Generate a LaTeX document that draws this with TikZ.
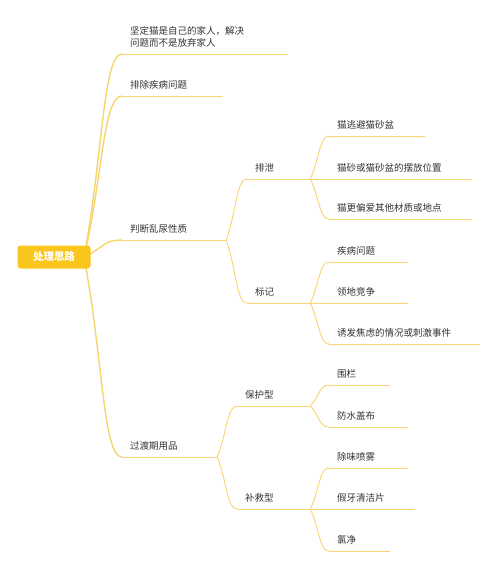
\documentclass[tikz,border=0pt]{standalone}
\usepackage{fontspec}
\setmainfont{Noto Sans CJK SC}
\usepackage{tikz}
\usetikzlibrary{calc}
\usetikzlibrary{backgrounds}
\definecolor{branchyellow}{HTML}{F6D46E}
\definecolor{rootyellow}{HTML}{FAC51C}
\definecolor{inkgray}{HTML}{333333}

\begin{document}
\begin{tikzpicture}
	[
	x=1pt, y=-1pt,
	every node/.style={font=\fontsize{9.5}{12}\selectfont, text=inkgray},
	root/.style = {fill=rootyellow, rounded corners=3pt, minimum width=73pt, minimum height=23pt, text=white, font=\fontsize{10.5}{12}\selectfont\bfseries},
	twig/.style = {draw=branchyellow, line width=0.9pt},
	limb/.style = {draw=branchyellow, line width=1.4pt},
	topic/.style = {anchor=south west, inner xsep=8pt, inner ysep=5pt, text depth=2pt, align=left, text width=#1,
		append after command={(\tikzlastnode.south west) edge[twig] (\tikzlastnode.south east)}},
	branch/.style = {to path={.. controls ($(\tikztostart)!0.5!(\tikztotarget)$) and ($(\tikztotarget)!0.5!(\tikztostart |- \tikztotarget)$) .. (\tikztotarget)}}
	]
	\useasboundingbox (0,0) rectangle (500,563);

	\node[root] (root) at (54,257) {处理思路};
	\coordinate (hub) at (84,257);

	\node[topic=150pt, text depth=14pt] (family) at (122,54) {坚定猫是自己的家人，解决\\问题而不是放弃家人};
	\node[topic=85pt] (illcheck) at (122,96) {排除疾病问题};
	\node[topic=88pt] (judge) at (122,240) {判断乱尿性质};
	\node[topic=79pt] (transit) at (122,457) {过渡期用品};

	\node[topic=47pt] (excrete) at (247,179) {排泄};
	\node[topic=47pt] (mark) at (247,303) {标记};
	\node[topic=80pt] (avoid) at (329,136) {猫逃避猫砂盆};
	\node[topic=127pt] (place) at (329,179) {猫砂或猫砂盆的摆放位置};
	\node[topic=127pt] (prefer) at (329,219) {猫更偏爱其他材质或地点};
	\node[topic=63pt] (illness) at (329,262) {疾病问题};
	\node[topic=63pt] (territory) at (329,303) {领地竞争};
	\node[topic=135pt] (anxiety) at (329,344) {诱发焦虑的情况或刺激事件};

	\node[topic=57pt] (protect) at (237,406) {保护型};
	\node[topic=57pt] (remedy) at (237,509) {补救型};
	\node[topic=45pt] (fence) at (329,385) {围栏};
	\node[topic=63pt] (cover) at (329,427) {防水盖布};
	\node[topic=63pt] (spray) at (329,468) {除味喷雾};
	\node[topic=70pt] (tablet) at (329,509) {假牙清洁片};
	\node[topic=45pt] (chlorine) at (329,551) {氯净};

	\begin{scope}[on background layer]
	\draw[limb, branch] (hub) to (family.south west);
	\draw[limb, branch] (hub) to (illcheck.south west);
	\draw[limb, branch] (hub) to (judge.south west);
	\draw[limb, branch] (hub) to (transit.south west);

	\draw[twig, branch] (judge.south east) to (excrete.south west);
	\draw[twig, branch] (judge.south east) to (mark.south west);
	\draw[twig, branch] (excrete.south east) to (avoid.south west);
	\draw[twig, branch] (excrete.south east) to (place.south west);
	\draw[twig, branch] (excrete.south east) to (prefer.south west);
	\draw[twig, branch] (mark.south east) to (illness.south west);
	\draw[twig, branch] (mark.south east) to (territory.south west);
	\draw[twig, branch] (mark.south east) to (anxiety.south west);

	\draw[twig, branch] (transit.south east) to (protect.south west);
	\draw[twig, branch] (transit.south east) to (remedy.south west);
	\draw[twig, branch] (protect.south east) to (fence.south west);
	\draw[twig, branch] (protect.south east) to (cover.south west);
	\draw[twig, branch] (remedy.south east) to (spray.south west);
	\draw[twig, branch] (remedy.south east) to (tablet.south west);
	\draw[twig, branch] (remedy.south east) to (chlorine.south west);
	\end{scope}
\end{tikzpicture}
\end{document}
